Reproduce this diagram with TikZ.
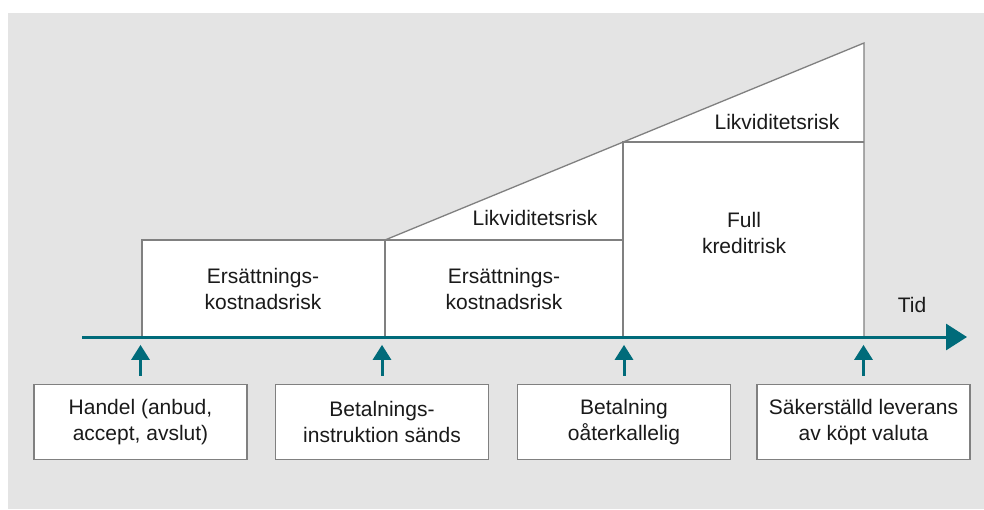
\documentclass[tikz,border=0pt]{standalone}
\usepackage{fontspec}
\setmainfont{Liberation Sans}
\usetikzlibrary{arrows.meta}
\definecolor{bgc}{HTML}{E4E4E4}
\definecolor{axc}{HTML}{006B7A}
\definecolor{edgec}{HTML}{808080}
\definecolor{txtc}{HTML}{1A1A1A}
\begin{document}
\begin{tikzpicture}[x=1pt,y=-1pt,
  lbl/.style={text=txtc,font=\fontsize{21}{26}\selectfont,align=center,inner sep=0pt},
  evbox/.style={draw=edgec,line width=1.3pt,fill=white,minimum width=213pt,minimum height=75pt,text=txtc,font=\fontsize{21}{26}\selectfont,align=center,inner sep=0pt},
  riskline/.style={draw=edgec,line width=1.3pt},
  uparrow/.style={draw=axc,line width=3pt,-{Triangle[width=18pt,length=15pt]}},
  axis/.style={draw=axc,line width=3pt,-{Triangle[width=26pt,length=21pt]}}]
\useasboundingbox (0,0) rectangle (984,509);
\fill[bgc] (8,13) rectangle (984,509);
% white areas
\fill[white] (142,240) rectangle (385,337);
\fill[white] (385,337) -- (385,240) -- (864,43) -- (864,337) -- cycle;
% outlines
\draw[riskline] (142,337) -- (142,240) -- (385,240) -- (385,337);
\draw[riskline] (385,240) -- (864,43) -- (864,337);
\draw[riskline] (385,240) -- (623,240);
\draw[riskline] (623,337) -- (623,142) -- (864,142);
% axis
\coordinate (ax0) at (82,337);
\coordinate (ax1) at (967,337);
\draw[axis] (ax0) -- (ax1);
% labels
\node[lbl] (r1) at (263,289) {Ersättnings-\\kostnadsrisk};
\node[lbl] (r2) at (504,289) {Ersättnings-\\kostnadsrisk};
\node[lbl] (l1) at (535,218) {Likviditetsrisk};
\node[lbl] (l2) at (777,122) {Likviditetsrisk};
\node[lbl] (fk) at (744,233) {Full\\kreditrisk};
\node[lbl] (tid) at (912,305) {Tid};
% event boxes
\node[evbox] (a) at (140.5,422) {Handel (anbud,\\accept, avslut)};
\node[evbox] (b) at (382,422) {Betalnings-\\instruktion sänds};
\node[evbox] (c) at (624,422) {Betalning\\oåterkallelig};
\node[evbox] (d) at (863.5,422) {Säkerställd leverans\\av köpt valuta};
% up arrows
\foreach \n in {a,b,c,d}{
  \draw[uparrow] ([yshift=8pt]\n.north) -- ([yshift=39pt]\n.north);
}
\end{tikzpicture}
\end{document}
